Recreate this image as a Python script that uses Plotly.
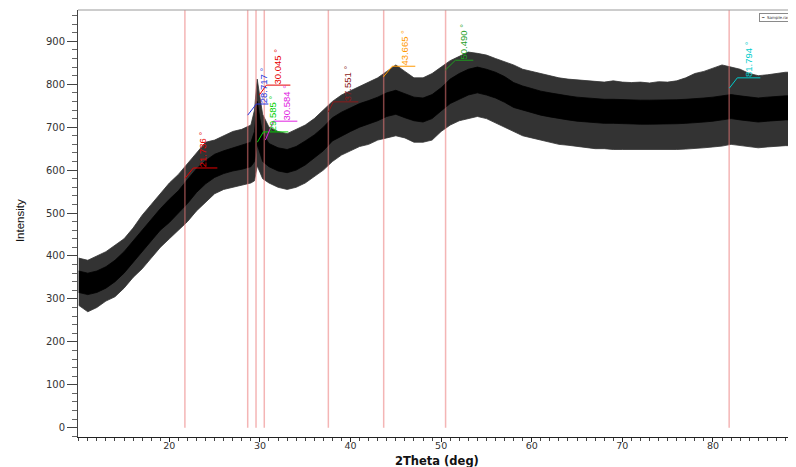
import plotly.graph_objects as go

# ---------------- data ----------------
two_theta = [10, 11, 12, 13, 14, 15, 16, 17, 18, 19, 20, 21, 22, 23, 24, 25, 26, 27, 28, 29,
             29.4, 29.7, 30.0, 30.3, 31, 32, 33, 34, 35, 36, 37, 38, 39, 40, 41, 42, 43, 44, 45, 46,
             47, 48, 49, 50, 51, 52, 53, 54, 55, 56, 57, 58, 59, 60, 61, 62, 63, 64, 65, 66,
             67, 68, 69, 70, 71, 72, 73, 74, 75, 76, 77, 78, 79, 80, 81, 82, 83, 84, 85, 86,
             87, 88, 89, 90]
spike_hi = [395, 390, 400, 410, 425, 440, 465, 495, 520, 545, 570, 590, 615, 640, 665, 670, 680, 690, 695, 705,
            740, 812, 770, 730, 700, 690, 685, 695, 705, 720, 740, 760, 775, 785, 795, 805, 815, 830, 845, 830,
            815, 815, 825, 840, 855, 865, 875, 872, 868, 860, 852, 845, 835, 830, 825, 820, 815, 812, 810, 808,
            806, 805, 808, 805, 804, 805, 803, 806, 805, 808, 815, 825, 830, 838, 845, 840, 835, 825, 820, 822,
            825, 828, 828, 828]
core_hi = [365, 360, 365, 375, 390, 410, 435, 460, 485, 510, 532, 552, 578, 603, 622, 637, 645, 652, 658, 665,
           690, 760, 720, 685, 662, 652, 648, 655, 668, 682, 700, 722, 735, 745, 755, 762, 770, 780, 786, 778,
           770, 768, 776, 792, 812, 825, 835, 840, 835, 828, 818, 804, 796, 790, 784, 780, 776, 773, 770, 768,
           766, 765, 765, 764, 764, 763, 763, 763, 763, 764, 765, 766, 768, 770, 773, 776, 773, 770, 768, 770,
           772, 773, 773, 773]
core_lo = [315, 310, 315, 325, 340, 360, 385, 410, 435, 460, 478, 500, 522, 548, 568, 583, 592, 598, 602, 608,
           620, 660, 640, 620, 608, 598, 594, 600, 612, 628, 645, 668, 680, 690, 700, 708, 715, 725, 730, 722,
           715, 712, 720, 738, 755, 765, 775, 780, 775, 768, 758, 746, 740, 734, 728, 724, 720, 717, 714, 712,
           710, 709, 709, 708, 708, 707, 707, 707, 707, 708, 709, 710, 712, 714, 717, 720, 717, 714, 712, 714,
           716, 717, 717, 717]
spike_lo = [285, 270, 280, 295, 305, 325, 350, 370, 395, 420, 440, 460, 480, 505, 525, 545, 555, 560, 565, 570,
            575, 610, 595, 580, 570, 560, 555, 560, 570, 585, 600, 620, 635, 645, 655, 660, 670, 675, 680, 675,
            665, 665, 670, 690, 705, 715, 720, 725, 720, 710, 700, 690, 680, 675, 670, 665, 660, 658, 655, 652,
            650, 650, 648, 648, 648, 647, 647, 647, 647, 648, 649, 650, 652, 654, 656, 660, 657, 654, 652, 654,
            656, 657, 657, 657]

ref_lines = [21.72, 28.65, 29.57, 30.48, 37.55, 43.66, 50.49, 81.79]

peak_labels = ["21.736 °", "28.717 °", "30.045 °", "29.585 °", "30.584 °",
               "37.551 °", "43.665 °", "50.490 °", "81.794 °"]
peak_colors = ["#e60000", "#2233dd", "#e60000", "#00d000", "#e020e0",
               "#8b1a1a", "#ff9900", "#1e9e1e", "#00cccc"]
# leader line: start (x, y), elbow (x, y), horizontal end x, text centre x
lead_start_x = [21.74, 28.65, 29.93, 29.71, 30.60, 37.55, 43.62, 50.46, 81.81]
lead_start_y = [581, 728, 775, 665, 670, 735, 817, 833, 791]
lead_elbow_x = [22.65, 29.60, 30.71, 30.38, 31.48, 38.10, 44.61, 51.57, 82.69]
lead_elbow_y = [605, 754, 798, 689, 714, 759, 842, 856, 815]
lead_end_x = [25.30, 30.93, 33.36, 33.13, 34.13, 40.86, 47.15, 53.55, 85.23]
text_x = [23.75, 30.37, 31.92, 31.48, 32.91, 39.65, 45.94, 52.45, 84.00]

x_ticks = [20, 30, 40, 50, 60, 70, 80]
y_ticks = [0, 100, 200, 300, 400, 500, 600, 700, 800, 900]

NARROW = "Liberation Sans, Arial, sans-serif"

# ---------------- figure ----------------
fig = go.Figure()

fig.add_trace(go.Scatter(x=two_theta, y=spike_hi, mode="lines",
                         line=dict(color="#333333", width=0.8), hoverinfo="skip", showlegend=False))
fig.add_trace(go.Scatter(x=two_theta, y=spike_lo, mode="lines", fill="tonexty",
                         fillcolor="#333333", line=dict(color="#333333", width=0.8),
                         hoverinfo="skip", showlegend=False))
fig.add_trace(go.Scatter(x=two_theta, y=core_hi, mode="lines",
                         line=dict(color="black", width=0.8), hoverinfo="skip", showlegend=False))
fig.add_trace(go.Scatter(x=two_theta, y=core_lo, mode="lines", fill="tonexty",
                         fillcolor="black", line=dict(color="black", width=0.8),
                         name="Sample", showlegend=False))

shapes = []
for xv in ref_lines:
    shapes.append(dict(type="line", xref="x", yref="y", x0=xv, x1=xv, y0=0, y1=973,
                       line=dict(color="rgba(235,120,120,0.55)", width=1.5), layer="above"))

annotations = []
for i, txt in enumerate(peak_labels):
    path = (f"M {lead_start_x[i]},{lead_start_y[i]} L {lead_elbow_x[i]},{lead_elbow_y[i]} "
            f"L {lead_end_x[i]},{lead_elbow_y[i]}")
    shapes.append(dict(type="path", xref="x", yref="y", path=path,
                       line=dict(color=peak_colors[i], width=1), layer="above"))
    annotations.append(dict(x=text_x[i], y=lead_elbow_y[i], xref="x", yref="y",
                            text=txt, textangle=-90, showarrow=False,
                            xanchor="center", yanchor="bottom", borderpad=0,
                            font=dict(family=NARROW, size=9.5, color=peak_colors[i])))

# top frame line
shapes.append(dict(type="line", xref="paper", yref="paper", x0=0, x1=1, y0=1, y1=1,
                   line=dict(color="#9a9a9a", width=1)))

# axis titles
annotations.append(dict(x=0.494, y=-0.056, xref="paper", yref="paper", text="<b>2Theta (deg)</b>",
                        showarrow=False, xanchor="center", yanchor="middle", borderpad=0,
                        font=dict(family="DejaVu Sans, sans-serif", size=11.5, color="#111")))
annotations.append(dict(x=-0.0799, y=0.508, xref="paper", yref="paper", text="Intensity",
                        textangle=-90, showarrow=False, xanchor="center", yanchor="middle",
                        font=dict(family=NARROW, size=11.5, color="#111")))
# tiny legend box
annotations.append(dict(x=0.985, y=0.993, xref="paper", yref="paper", text="━  Sample.raw",
                        showarrow=False, xanchor="right", yanchor="top",
                        bordercolor="#8a8a8a", borderwidth=1, borderpad=1, bgcolor="white",
                        font=dict(family="DejaVu Sans, sans-serif", size=4, color="#333")))

# the page body adds an 8 px offset, so margins are shifted to compensate
fig.update_layout(
    width=796, height=467,
    margin=dict(l=70, r=0, t=2, b=38, autoexpand=False),
    paper_bgcolor="white", plot_bgcolor="white",
    shapes=shapes, annotations=annotations,
    showlegend=False,
    xaxis=dict(range=[9.92, 90.05], tickvals=x_ticks, ticktext=[str(v) for v in x_ticks],
               automargin=False,
               ticks="outside", ticklen=4, tickcolor="#222", tickwidth=1,
               showline=True, linecolor="#222", linewidth=1,
               showgrid=False, zeroline=False,
               minor=dict(dtick=1, tick0=0, ticks="outside", ticklen=3, tickcolor="#444", showgrid=False),
               tickfont=dict(family="DejaVu Sans, sans-serif", size=9.5, color="#333")),
    yaxis=dict(range=[-21.7, 973], tickvals=y_ticks, ticktext=[str(v) for v in y_ticks],
               automargin=False,
               ticks="outside", ticklen=10, tickcolor="#444", tickwidth=1,
               showline=True, linecolor="#444", linewidth=1,
               showgrid=False, zeroline=False,
               minor=dict(dtick=20, tick0=0, ticks="outside", ticklen=5, tickcolor="#666", showgrid=False),
               tickfont=dict(family="DejaVu Sans, sans-serif", size=10, color="#333")),
)
try:
    fig.update_xaxes(ticklabelstandoff=-4)
except ValueError:
    pass

fig.write_html("out.html")
